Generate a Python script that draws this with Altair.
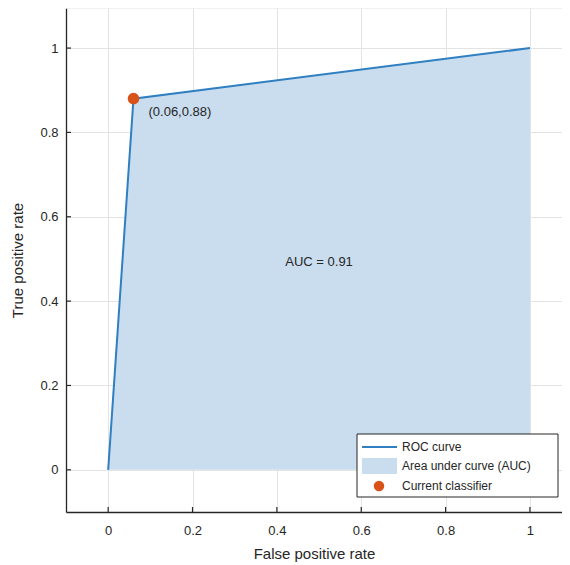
import altair as alt
import pandas as pd

# ---- data ----
fpr = [0.0, 0.06, 1.0]
tpr = [0.0, 0.88, 1.0]
baseline = [0.0, 0.0, 0.0]
tick_vals = [0.0, 0.2, 0.4, 0.6, 0.8, 1.0]
point_fpr = [0.06]
point_tpr = [0.88]
point_label = ["(0.06,0.88)"]
auc_x = [0.5]
auc_y = [0.5]
auc_label = ["AUC = 0.91"]
legend_labels = ["ROC curve", "Area under curve (AUC)", "Current classifier"]

# ---- style ----
W, H = 496, 504
FONT = "Liberation Sans"
DARK = "#262626"
LINE = "#2f7fc1"
FILL = "#c9ddee"
DOT = "#d95319"
GRID = "#e3e3e3"

xs = alt.Scale(domain=[-0.1, 1.076], nice=False, zero=False)
ys = alt.Scale(domain=[-0.1, 1.095], nice=False, zero=False)

roc = pd.DataFrame({"fpr": fpr, "tpr": tpr, "base": baseline})
pt = pd.DataFrame({"fpr": point_fpr, "tpr": point_tpr, "lab": point_label})
auc = pd.DataFrame({"fpr": auc_x, "tpr": auc_y, "lab": auc_label})
ticks = pd.DataFrame({"fpr": tick_vals, "tpr": tick_vals})
one = pd.DataFrame({"a": [0]})

xaxis = alt.Axis(values=tick_vals, format="~g",
                 grid=True, gridColor=GRID, domainColor=DARK, domainWidth=1.3,
                 ticks=False, labelPadding=12, labelFontSize=13, labelColor=DARK,
                 labelFont=FONT, titleFont=FONT, titleFontSize=15,
                 titleFontWeight="normal", titleColor=DARK, titlePadding=9)
yaxis = alt.Axis(values=tick_vals, format="~g",
                 grid=True, gridColor=GRID, domainColor=DARK, domainWidth=1.3,
                 ticks=False, labelPadding=8, labelFontSize=13, labelColor=DARK,
                 labelFont=FONT, titleFont=FONT, titleFontSize=15,
                 titleFontWeight="normal", titleColor=DARK, titlePadding=14)

X = alt.X("fpr:Q", scale=xs, axis=xaxis, title="False positive rate")
Y = alt.Y("tpr:Q", scale=ys, axis=yaxis, title="True positive rate")

area = alt.Chart(roc).mark_area(color=FILL, opacity=1).encode(
    x=X, y=Y, y2="base:Q",
)
line = alt.Chart(roc).mark_line(color=LINE, strokeWidth=2).encode(x=X, y=Y)
dot = alt.Chart(pt).mark_point(filled=True, color=DOT, size=135, opacity=1).encode(x=X, y=Y)
dot_text = alt.Chart(pt).mark_text(align="left", baseline="middle", dx=15, dy=13,
                                   fontSize=13, font=FONT, color=DARK).encode(
    x=X, y=Y, text="lab:N",
)
auc_text = alt.Chart(auc).mark_text(align="center", baseline="middle", dy=3,
                                    fontSize=13, font=FONT, color=DARK).encode(
    x=X, y=Y, text="lab:N",
)
xticks = alt.Chart(ticks).mark_rule(color=DARK, strokeWidth=1.2).encode(
    x=X, y=alt.value(H), y2=alt.value(H - 5),
)
yticks = alt.Chart(ticks).mark_rule(color=DARK, strokeWidth=1.2).encode(
    y=Y, x=alt.value(0), x2=alt.value(5),
)
topline = alt.Chart(one).mark_rule(color=GRID, strokeWidth=1).encode(
    x=alt.value(0), x2=alt.value(W), y=alt.value(0),
)

# ---- legend (drawn manually) ----
LX0, LX1, LY0, LY1 = 291, 492, 426, 489
leg_box = alt.Chart(one).mark_rect(fill="white", stroke=DARK, strokeWidth=1).encode(
    x=alt.value(LX0), x2=alt.value(LX1), y=alt.value(LY0), y2=alt.value(LY1),
)
leg_line = alt.Chart(one).mark_rule(color=LINE, strokeWidth=2).encode(
    x=alt.value(296), x2=alt.value(331), y=alt.value(439),
)
leg_area = alt.Chart(one).mark_rect(fill=FILL).encode(
    x=alt.value(296), x2=alt.value(331), y=alt.value(450), y2=alt.value(466),
)
leg_dot = alt.Chart(one).mark_point(filled=True, color=DOT, size=110, opacity=1).encode(
    x=alt.value(313), y=alt.value(478),
)
leg_texts = []
for lab, yy in zip(legend_labels, [439, 458, 478]):
    leg_texts.append(
        alt.Chart(one).mark_text(align="left", baseline="middle", fontSize=12,
                                 font=FONT, color=DARK).encode(
            x=alt.value(336), y=alt.value(yy), text=alt.value(lab))
    )

chart = alt.layer(
    area, line, topline, xticks, yticks, dot, dot_text, auc_text,
    leg_box, leg_line, leg_area, leg_dot, *leg_texts
).properties(
    width=W, height=H,
    autosize=alt.AutoSizeParams(type="none"),
    padding={"left": 58, "top": 0, "right": 0, "bottom": 50},
    background="white",
).configure_view(stroke=None)

chart.save("out.html", embed_options={"renderer": "svg", "actions": False})
